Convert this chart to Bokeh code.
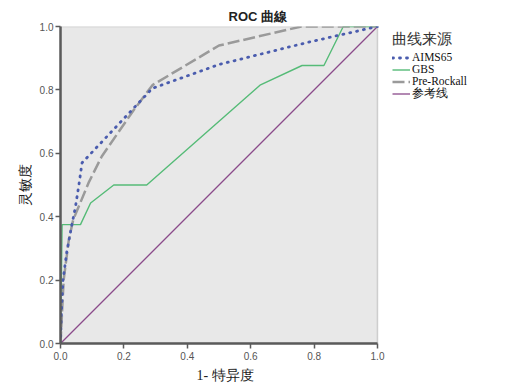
from bokeh.plotting import figure
from bokeh.models import (Range1d, FixedTicker, Legend, LegendItem, NumeralTickFormatter,
                          BoxAnnotation, Title)
from bokeh.embed import file_html
from bokeh.resources import INLINE

# ---- data ----
aims_fpr = [0.0, 0.003, 0.008, 0.02, 0.035, 0.047, 0.058, 0.068, 0.29, 0.5, 0.78, 1.0]
aims_tpr = [0.0, 0.10, 0.20, 0.29, 0.37, 0.43, 0.50, 0.57, 0.805, 0.88, 0.95, 1.0]

gbs_fpr = [0.0, 0.005, 0.063, 0.095, 0.168, 0.272, 0.631, 0.762, 0.831, 0.892, 1.0]
gbs_tpr = [0.0, 0.375, 0.375, 0.443, 0.5, 0.5, 0.816, 0.877, 0.877, 1.0, 1.0]

rock_fpr = [0.0, 0.01, 0.026, 0.04, 0.09, 0.13, 0.23, 0.29, 0.5, 0.76, 1.0]
rock_tpr = [0.0, 0.2, 0.325, 0.39, 0.51, 0.59, 0.735, 0.815, 0.94, 1.0, 1.0]

ref_fpr = [0.0, 1.0]
ref_tpr = [0.0, 1.0]

ticks = [0.0, 0.2, 0.4, 0.6, 0.8, 1.0]
title_text = "ROC 曲線"
x_label = "1- 特异度"
y_label = "灵敏度"
legend_title = "曲线来源"
series_names = ["AIMS65", "GBS", "Pre-Rockall", "参考线"]

W, H = 510, 387
FRAME_L, FRAME_T, FRAME_B = 60, 26, 44
PLOT_W = 317                       # pixel width of the unit square
x_end = (W - FRAME_L) / PLOT_W     # frame extends right to hold the legend

p = figure(width=W, height=H, output_backend="svg", toolbar_location=None,
           x_range=Range1d(0, x_end), y_range=Range1d(0, 1),
           min_border_left=FRAME_L, min_border_right=0, min_border_top=FRAME_T,
           min_border_bottom=FRAME_B)
p.background_fill_color = "white"
p.border_fill_color = "white"
p.outline_line_color = None
p.grid.visible = False

# grey plotting square with its frame
box = BoxAnnotation(left=0, right=1, bottom=0, top=1, fill_color="#e8e8e8", fill_alpha=1,
                    line_color="#7a7a7a", line_width=1.5, level="underlay")
p.add_layout(box)

p.title.text = title_text
p.title.align = "left"
p.title.offset = 168
p.title.standoff = 6
p.title.text_font = "Liberation Sans"
p.title.text_font_size = "13px"
p.title.text_font_style = "bold"
p.title.text_color = "#222222"

for ax in (p.xaxis, p.yaxis):
    ax.ticker = FixedTicker(ticks=ticks)
    ax.formatter = NumeralTickFormatter(format="0.0")
    ax.bounds = (0, 1)
    ax.axis_line_color = "#5a5a5a"
    ax.axis_line_width = 2.5
    ax.major_tick_line_color = "#5a5a5a"
    ax.major_tick_line_width = 1.5
    ax.major_tick_out = 5
    ax.major_tick_in = 0
    ax.minor_tick_line_color = None
    ax.major_label_text_font = "Liberation Sans"
    ax.major_label_text_font_size = "10px"
    ax.major_label_text_color = "#555555"
    ax.axis_label_text_font = "Liberation Serif"
    ax.axis_label_text_font_style = "normal"
    ax.axis_label_text_color = "#222222"

p.xaxis.major_label_standoff = 3
p.yaxis.axis_label = y_label
p.yaxis.axis_label_text_font_size = "13.5px"
p.yaxis.axis_label_standoff = 4
p.yaxis.major_label_standoff = 2

xlab = Title(text=x_label, align="left", offset=136, standoff=6,
             text_font="Liberation Serif", text_font_size="14px", text_font_style="normal",
             text_color="#222222")
p.add_layout(xlab, "below")

r_ref = p.line(ref_fpr, ref_tpr, line_color="#8a4a8a", line_width=1.3)
r_gbs = p.line(gbs_fpr, gbs_tpr, line_color="#55bb77", line_width=1.4)
r_rock = p.line(rock_fpr, rock_tpr, line_color="#9a9a9a", line_width=2.5, line_dash="12 4")
r_aims = p.line(aims_fpr, aims_tpr, line_color="#4a5cae", line_width=2.8, line_dash="1 6", line_cap="round")

# one single-row legend per series, so the rows can sit as tightly as in the reference
renderers = [r_aims, r_gbs, r_rock, r_ref]
row_bottoms = [280, 268, 256, 242]   # px above the frame bottom
for i, (name, r, yb) in enumerate(zip(series_names, renderers, row_bottoms)):
    kw = dict(title=legend_title, title_text_font="Liberation Serif",
              title_text_font_size="14.5px", title_text_font_style="normal",
              title_text_color="#333333", title_standoff=2) if i == 0 else {}
    lg = Legend(items=[LegendItem(label=name, renderers=[r])], location=(332, yb),
                label_text_font="Liberation Serif", label_text_font_size="11.5px",
                label_text_color="#111111", label_standoff=2, label_height=11,
                glyph_width=18, glyph_height=11, spacing=0, padding=0, margin=0,
                border_line_color=None, background_fill_alpha=0, **kw)
    p.add_layout(lg, "center")

open("out.html", "w").write(file_html(p, INLINE))
